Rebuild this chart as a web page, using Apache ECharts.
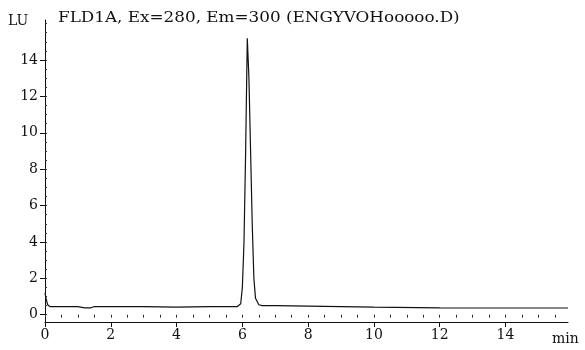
<!DOCTYPE html>
<html>
<head>
<meta charset="utf-8">
<script src="https://cdn.jsdelivr.net/npm/echarts@6/dist/echarts.min.js"></script>
<style>
  html, body { margin: 0; padding: 0; background: #fff; }
  #chart { width: 585px; height: 350px; }
</style>
</head>
<body>
<div id="chart"></div>
<script>
// retention time (min) and signal (LU)
var times = [0, 0.03, 0.08, 0.15, 1.0, 1.2, 1.4, 1.5, 3.0, 4.0, 5.0, 5.85, 5.95, 6.0, 6.05, 6.1, 6.15, 6.2, 6.25, 6.3, 6.35, 6.4, 6.5, 6.6, 7.0, 8.0, 10.0, 12.0, 14.0, 15.9];
var signal = [1.2, 0.9, 0.55, 0.45, 0.45, 0.38, 0.38, 0.45, 0.45, 0.42, 0.45, 0.45, 0.6, 1.5, 4.0, 9.0, 15.2, 13.0, 9.0, 5.0, 2.0, 0.9, 0.55, 0.5, 0.5, 0.47, 0.42, 0.38, 0.37, 0.37];
var xTicks = [0, 2, 4, 6, 8, 10, 12, 14];
var yTicks = [0, 2, 4, 6, 8, 10, 12, 14];
var yMinor = [0, 0.5, 1, 1.5, 2, 2.5, 3, 3.5, 4, 4.5, 5, 5.5, 6, 6.5, 7, 7.5, 8, 8.5, 9, 9.5, 10, 10.5, 11, 11.5, 12, 12.5, 13, 13.5, 14, 14.5, 15, 15.5, 16];
var xMinor = [0, 0.5, 1, 1.5, 2, 2.5, 3, 3.5, 4, 4.5, 5, 5.5, 6, 6.5, 7, 7.5, 8, 8.5, 9, 9.5, 10, 10.5, 11, 11.5, 12, 12.5, 13, 13.5, 14, 14.5, 15, 15.5];

var font = "'DejaVu Serif', 'Liberation Serif', serif";
var points = times.map(function (t, i) { return [t, signal[i]]; });

var chart = echarts.init(document.getElementById("chart"));
chart.setOption({
  animation: false,
  grid: { left: 45, right: 17, top: 20, bottom: 28 },
  graphic: [
    { type: "text", left: 8, top: 14, style: { text: "LU", font: "14px " + font, fill: "#111" } },
    { type: "text", x: 58, y: 11, scaleX: 1.2, style: { text: "FLD1A, Ex=280, Em=300 (ENGYVOHooooo.D)", font: "14px " + font, fill: "#111" } },
    { type: "text", left: 552, top: 332, style: { text: "min", font: "14px " + font, fill: "#111" } }
  ],
  xAxis: [
    {
      type: "value", min: 0, max: 15.9,
      axisLine: { show: true, onZero: false, lineStyle: { color: "#111", width: 1 } },
      axisTick: { show: true, customValues: xTicks, length: 5, inside: false, lineStyle: { color: "#111" } },
      axisLabel: { customValues: xTicks, color: "#111", fontFamily: font, fontSize: 14, margin: 6 },
      splitLine: { show: false }
    },
    {
      type: "value", min: 0, max: 15.9, position: "bottom",
      axisLine: { show: false },
      axisTick: { show: true, customValues: xMinor, length: 3, lineStyle: { color: "#333" } },
      axisLabel: { show: false },
      splitLine: { show: false }
    }
  ],
  yAxis: [
    {
      type: "value", min: -0.4, max: 16.2,
      axisLine: { show: true, onZero: false, lineStyle: { color: "#111", width: 1 } },
      axisTick: { show: true, customValues: yTicks, length: 5, lineStyle: { color: "#111" } },
      axisLabel: { customValues: yTicks, color: "#111", fontFamily: font, fontSize: 14, margin: 7 },
      splitLine: { show: false }
    },
    {
      type: "value", min: -0.4, max: 16.2, position: "left",
      axisLine: { show: false },
      axisTick: { show: true, customValues: yMinor, length: 2, inside: true, lineStyle: { color: "#333" } },
      axisLabel: { show: false },
      splitLine: { show: false }
    }
  ],
  series: [
    {
      type: "line",
      data: points,
      showSymbol: false,
      lineStyle: { color: "#111", width: 1.2 }
    }
  ]
});
</script>
</body>
</html>
